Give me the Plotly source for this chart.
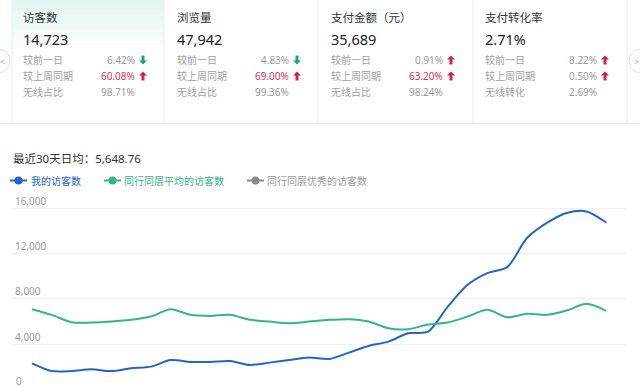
import plotly.graph_objects as go

# ---------------- data ----------------
days = list(range(1, 31))
my_visitors = [2310, 1630, 1630, 1780, 1630, 1870, 2015, 2600, 2430, 2430,
               2515, 2160, 2370, 2600, 2810, 2690, 3250, 3840, 4220, 4960,
               5100, 7310, 9230, 10260, 10790, 13350, 14680, 15560, 15700, 14723]
peer_avg = [7080, 6580, 5930, 5900, 5990, 6140, 6430, 7080, 6580, 6490,
            6580, 6140, 5990, 5840, 5990, 6140, 6200, 5990, 5400, 5320,
            5720, 5900, 6430, 7020, 6370, 6670, 6580, 6960, 7550, 6930]
series_names = ["我的访客数", "同行同层平均的访客数", "同行同层优秀的访客数"]
y_ticks = [4000, 8000, 12000, 16000]

card_titles = ["访客数", "浏览量", "支付金额（元）", "支付转化率"]
card_values = ["14,723", "47,942", "35,689", "2.71%"]
row_labels = [["较前一日", "较上周同期", "无线占比"],
              ["较前一日", "较上周同期", "无线占比"],
              ["较前一日", "较上周同期", "无线占比"],
              ["较前一日", "较上周同期", "无线转化"]]
day_change = ["6.42%", "4.83%", "0.91%", "8.22%"]
day_dir = ["down", "down", "up", "up"]
week_change = ["60.08%", "69.00%", "63.20%", "0.50%"]
week_dir = ["up", "up", "up", "up"]
week_hot = [True, True, True, False]
wireless = ["98.71%", "99.36%", "98.24%", "2.69%"]
avg_label = "最近30天日均：5,648.76"

# ---------------- style ----------------
W, H = 640, 387
BLUE = "#2563c9"
GREEN = "#36b38b"
GRAYS = "#8c8c8c"
RED = "#d6305c"
RED_ARROW = "#d5234d"
GREEN_ARROW = "#1aa37a"
FONT = "Noto Sans, Noto Sans CJK SC"
PLOT_TOP = 188


def px(x):
    return x / W


def py(y):
    return 1 - y / H


fig = go.Figure()
fig.add_trace(go.Scatter(x=days, y=my_visitors, mode="lines", name=series_names[0],
                         line=dict(color=BLUE, width=2, shape="spline", smoothing=0.8),
                         showlegend=False, hoverinfo="skip"))
fig.add_trace(go.Scatter(x=days, y=peer_avg, mode="lines", name=series_names[1],
                         line=dict(color=GREEN, width=2, shape="spline", smoothing=0.8),
                         showlegend=False, hoverinfo="skip"))

shapes = []
annotations = []


def note(text, x, y, size, color, xanchor="left"):
    annotations.append(dict(text=text, x=px(x), y=py(y), xanchor=xanchor, yanchor="middle",
                            xref="paper", yref="paper", showarrow=False,
                            font=dict(family=FONT, size=size, color=color)))


# card 1 gradient highlight
top_c = (226, 245, 241)
n = 16
for i in range(n):
    t = i / n
    c = tuple(int(top_c[k] + (255 - top_c[k]) * t) for k in range(3))
    shapes.append(dict(type="rect", xref="paper", yref="paper",
                       x0=px(12), x1=px(164), y0=py(i * 3 + 3), y1=py(i * 3),
                       fillcolor=f"rgb{c}", line=dict(width=0), layer="below"))

# card separators
for xs in [12, 164, 318, 473, 627]:
    shapes.append(dict(type="line", xref="paper", yref="paper",
                       x0=px(xs), x1=px(xs), y0=py(0), y1=py(123),
                       line=dict(color="#ececec", width=1)))
shapes.append(dict(type="line", xref="paper", yref="paper",
                   x0=0, x1=1, y0=py(123.5), y1=py(123.5),
                   line=dict(color="#e8e8e8", width=1.5)))

# nav circles
for cx, ch, tx in [(-2, "<", 2), (641, ">", 636)]:
    shapes.append(dict(type="circle", xref="paper", yref="paper",
                       x0=px(cx - 12), x1=px(cx + 12), y0=py(61 + 12), y1=py(61 - 12),
                       fillcolor="white", line=dict(color="#e2e2e2", width=1)))
    note(ch, tx, 61, 9, "#aaaaaa", xanchor="center")


def arrow_path(cx, cy, up):
    s = -1 if up else 1
    pts = [(cx, cy + s * 4.5), (cx + 4, cy + s * 0.5), (cx + 1.5, cy + s * 0.5),
           (cx + 1.5, cy - s * 4.5), (cx - 1.5, cy - s * 4.5), (cx - 1.5, cy + s * 0.5),
           (cx - 4, cy + s * 0.5)]
    return "M " + " L ".join(f"{px(x):.5f},{py(y):.5f}" for x, y in pts) + " Z"


for i in range(4):
    x0 = 22 + 154 * i
    xr = 136 + 154 * i
    xa = 143 + 154 * i
    note(card_titles[i], x0 - 1, 17, 11.5, "#333333")
    note(card_values[i], x0 - 1, 39, 14.5, "#222222")
    rows_y = [60, 76, 92]
    vals = [day_change[i], week_change[i], wireless[i]]
    cols = ["#999999", RED if week_hot[i] else "#999999", "#999999"]
    for j in range(3):
        note(row_labels[i][j], x0 - 1, rows_y[j], 10, "#a0a0a0")
        note(vals[j], xr + 1, rows_y[j], 10, cols[j], xanchor="right")
    for j, d in [(0, day_dir[i]), (1, week_dir[i])]:
        shapes.append(dict(type="path", xref="paper", yref="paper",
                           path=arrow_path(xa, rows_y[j], d == "up"),
                           fillcolor=RED_ARROW if d == "up" else GREEN_ARROW,
                           line=dict(width=0)))

# average label
note(avg_label, 11, 158, 11.5, "#333333")

# custom legend
legend_items = [(series_names[0], BLUE, BLUE, 10, 30),
                (series_names[1], GREEN, GREEN, 104, 123),
                (series_names[2], GRAYS, "#999999", 247, 266)]
for name, c, tc, lx, tx in legend_items:
    shapes.append(dict(type="line", xref="paper", yref="paper",
                       x0=px(lx), x1=px(lx + 17), y0=py(180.5), y1=py(180.5),
                       line=dict(color=c, width=2)))
    shapes.append(dict(type="circle", xref="paper", yref="paper",
                       x0=px(lx + 8.5 - 4), x1=px(lx + 8.5 + 4), y0=py(184.5), y1=py(176.5),
                       fillcolor=c, line=dict(width=0)))
    note(name, tx - 1, 180.5, 10, tc)

# "0" tick label (its gridline sits just below the visible area)
note("0", 14, 380.5, 10, "#999999")

# y scale: 0 at 389.5 px, 16,000 at 208 px; plot spans PLOT_TOP..387
per_px = 16000 / (389.5 - 208)
y_lo = (389.5 - 387) * per_px
y_hi = y_lo + (387 - PLOT_TOP) * per_px

fig.update_layout(
    width=W, height=H,
    margin=dict(l=0, r=0, t=0, b=0, autoexpand=False),
    paper_bgcolor="white", plot_bgcolor="white",
    showlegend=False,
    shapes=shapes, annotations=annotations,
    xaxis=dict(domain=[px(12), px(627)], range=[-0.01, 31.05],
               showgrid=False, zeroline=False, showticklabels=False, showline=False),
    yaxis=dict(domain=[0, (387 - PLOT_TOP) / H], range=[y_lo, y_hi], tickvals=y_ticks,
               tickformat=",", ticklabelposition="inside top",
               tickfont=dict(family=FONT, size=10, color="#999999"),
               showgrid=True, gridcolor="#f0f0f0", gridwidth=1,
               zeroline=False, showline=False),
)

fig.write_html("out.html", config={"displayModeBar": False},
               post_script="document.body.style.margin='0';document.body.style.overflow='hidden';")
